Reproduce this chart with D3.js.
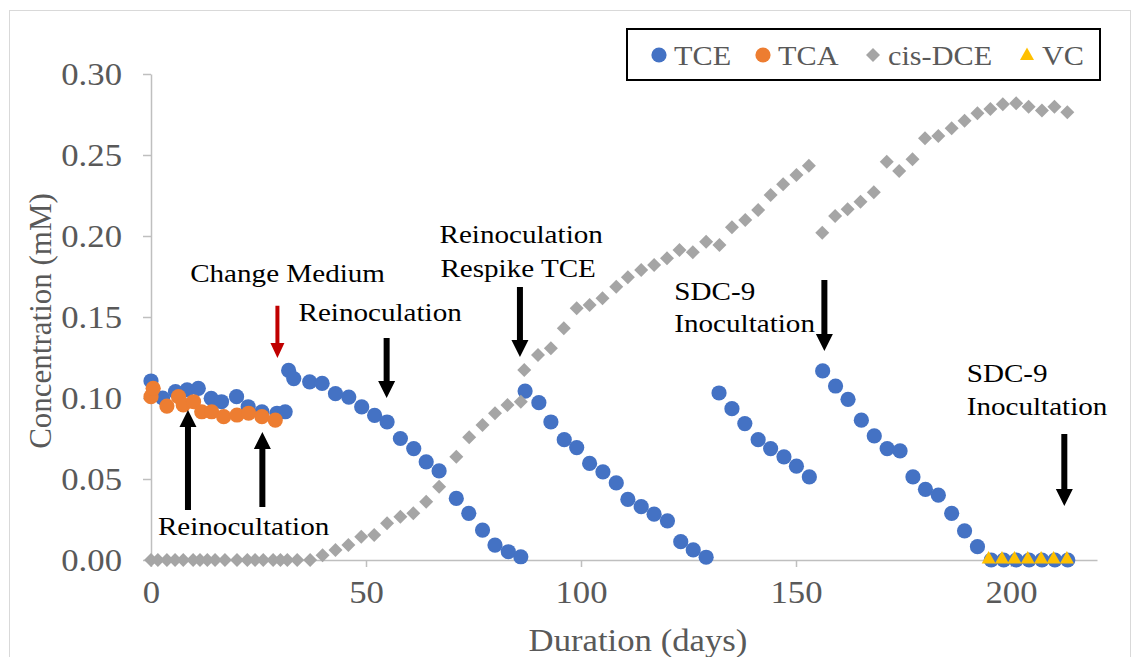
<!DOCTYPE html>
<html>
<head>
<meta charset="utf-8">
<script src="https://cdn.jsdelivr.net/npm/d3@7"></script>
<style>
  html, body { margin: 0; padding: 0; background: #fff; }
  svg { display: block; }
  svg text { font-family: "Liberation Serif", "Times New Roman", Times, serif; }
</style>
</head>
<body>
<svg id="chart" width="1138" height="657"></svg>
<script>
// ---- Measured concentrations (mM) against incubation time (days) ----
const tceDays = [0, 2.7, 5.7, 8.4, 11, 14, 16.4, 19.9, 22.6, 25.8, 29.3, 31.2,
  32, 33.2, 36.9, 39.8, 42.9, 46, 49, 52, 54.9, 58, 61.1, 64, 67, 71, 73.9, 77.1, 80, 83.1, 86,
  87, 90.2, 93, 96.1, 99, 102, 105.1, 108.2, 110.9, 114, 117, 120.1, 123.2, 126.1, 129.1,
  132.1, 135.1, 138.1, 141.2, 144.1, 147.2, 150.1, 153.1,
  156.2, 159.2, 162.1, 165.2, 168.2, 171.2, 174.2, 177.2, 180.1, 183.1, 186.2, 189.2, 192.2,
  195.4, 198.3, 201.2, 204.2, 207.2, 210.2, 213.2];
const tceConc = [0.1105, 0.100, 0.1039, 0.105, 0.106, 0.0998, 0.0977, 0.1008, 0.0946, 0.0915, 0.0906, 0.0915,
  0.117, 0.112, 0.110, 0.109, 0.1027, 0.1006, 0.0945, 0.0893, 0.0852, 0.075, 0.0688, 0.0606, 0.055, 0.038, 0.0288, 0.0185, 0.0092, 0.0051, 0.002,
  0.1043, 0.0971, 0.0852, 0.0743, 0.0694, 0.0596, 0.0544, 0.0476, 0.0374, 0.0329, 0.0283, 0.0242, 0.0113, 0.0062, 0.0017,
  0.1031, 0.0934, 0.0842, 0.0743, 0.0688, 0.0637, 0.0579, 0.0513,
  0.1167, 0.1074, 0.0992, 0.0863, 0.0766, 0.0688, 0.0673, 0.0513, 0.0436, 0.040, 0.0288, 0.018, 0.0082,
  0, 0, 0, 0, 0, 0, 0];

const tcaDays = [0, 0.5, 3.7, 6.4, 7.5, 9.9, 11.8, 14.1, 16.9, 20, 22.7, 25.8, 28.9];
const tcaConc = [0.1008, 0.106, 0.095, 0.1008, 0.0957, 0.0977, 0.0915, 0.0915, 0.0885, 0.0895, 0.0906, 0.0885, 0.0864];

const dceDays = [0, 1.6, 3.7, 5.6, 7.5, 9.8, 11.4, 13.1, 14.9, 17.2, 20, 22.4, 24.2, 26.1, 28.4, 30.1, 31.7, 34, 37,
  39.9, 42.9, 45.9, 48.9, 51.9, 54.9, 58, 61, 64, 67, 71, 74, 77.1, 80, 82.9, 86,
  86.8, 90, 93, 96, 99, 102, 105, 108.2, 110.9, 114, 117, 120, 122.9, 126, 129.1, 132.2,
  135.1, 138.2, 141.2, 144.1, 147, 150.1, 153,
  156.1, 159.1, 162, 165, 168.1, 171.1, 174, 177.1, 180, 183.1, 186.2, 189.2, 192.2, 195.2, 198.1,
  201.2, 204.1, 207.2, 210.1, 213.1];
const dceConc = [0, 0, 0, 0, 0, 0, 0, 0, 0, 0, 0, 0, 0, 0, 0, 0, 0, 0, 0,
  0.003, 0.0062, 0.0093, 0.0144, 0.0154, 0.0227, 0.0267, 0.0288, 0.036, 0.0452, 0.0638, 0.0757, 0.0833, 0.0906, 0.0957, 0.0977,
  0.1173, 0.1265, 0.1307, 0.143, 0.1554, 0.1574, 0.1615, 0.1687, 0.1745, 0.179, 0.1821, 0.1862, 0.1914, 0.190, 0.1965, 0.1945,
  0.2054, 0.2099, 0.216, 0.2253, 0.2319, 0.2377, 0.2434,
  0.202, 0.2123, 0.2165, 0.2212, 0.227, 0.2459, 0.2401, 0.2473, 0.2603, 0.2617, 0.2665, 0.2712, 0.2757, 0.2784, 0.2813,
  0.2819, 0.2798, 0.2774, 0.2798, 0.2764];

const vcDays = [194.8, 197.9, 200.8, 203.9, 207, 209.9, 213];
const vcConc = [0.001, 0.001, 0.001, 0.001, 0.001, 0.001, 0.001];

const xTicks = [0, 50, 100, 150, 200];
const yTicks = [0, 0.05, 0.10, 0.15, 0.20, 0.25, 0.30];

const seriesNames = ["TCE", "TCA", "cis-DCE", "VC"];
const seriesColors = ["#4472C4", "#ED7D31", "#A5A5A5", "#FFC000"];

// Event annotations: arrows (day, tail conc, tip conc) and label lines (day, baseline conc)
const arrowDays  = [29.4, 54.8, 85.8, 156.6, 212.4, 8.6, 25.9];
const arrowTails = [0.157, 0.137, 0.1685, 0.1728, 0.0778, 0.0309, 0.0327];
const arrowTips  = [0.1247, 0.100, 0.1253, 0.129, 0.0333, 0.0926, 0.079];
const arrowColors = ["#C00000", "#000", "#000", "#000", "#000", "#000", "#000"];

const noteText = ["Change Medium", "Reinoculation", "Reinoculation", "Respike TCE", "SDC-9", "Inocultation",
  "SDC-9", "Inocultation", "Reinocultation"];
const noteDays = [9.1, 34.3, 67.1, 67.3, 121.7, 121.7, 189.7, 189.7, 1.6];
const noteConc = [0.1716, 0.1475, 0.1957, 0.1747, 0.1605, 0.1407, 0.1099, 0.0895, 0.0154];

// ---- Layout ----
const serif = '"Liberation Serif", "Times New Roman", Times, serif';
const svg = d3.select("#chart").style("font-family", serif);
const plot = { left: 151, right: 1097, top: 74, bottom: 560 };
const stretch = 1.12;      // horizontal glyph stretch used by every label
const axisGrey = "#BFBFBF";
const labelGrey = "#595959";

const x = d3.scaleLinear().domain([0, 220]).range([plot.left, plot.right]);
const y = d3.scaleLinear().domain([0, 0.30]).range([plot.bottom, plot.top]);

// chart-area frame
svg.append("rect")
  .attr("x", 9.5).attr("y", 10.5).attr("width", 1121).attr("height", 700)
  .attr("fill", "none").attr("stroke", "#D9D9D9").attr("stroke-width", 1);

// y axis
const yAxis = svg.append("g")
  .attr("transform", `translate(${plot.left},0)`)
  .call(d3.axisLeft(y).tickValues(yTicks).tickFormat(d3.format(".2f")).tickSize(8).tickSizeOuter(0))
  .attr("font-family", null);
yAxis.select(".domain").attr("stroke", axisGrey).attr("stroke-width", 1.5);
yAxis.selectAll(".tick line").attr("stroke", axisGrey).attr("stroke-width", 1.5);
yAxis.selectAll(".tick text")
  .attr("x", -29 / stretch).attr("dy", "0.34em")
  .attr("transform", `scale(${stretch},1)`)
  .attr("fill", labelGrey).style("font-size", "31px")
  .style("font-family", serif);

// x axis
const xAxis = svg.append("g")
  .attr("transform", `translate(0,${plot.bottom})`)
  .call(d3.axisBottom(x).tickValues(xTicks).tickFormat(d3.format("d")).tickSize(7).tickSizeOuter(0))
  .attr("font-family", null);
xAxis.select(".domain").attr("stroke", axisGrey).attr("stroke-width", 1.5);
xAxis.selectAll(".tick line").attr("stroke", axisGrey).attr("stroke-width", 1.5);
xAxis.selectAll(".tick text")
  .attr("y", 43).attr("dy", 0).attr("x", 0)
  .attr("text-anchor", "middle")
  .attr("transform", `scale(${stretch},1)`)
  .attr("fill", labelGrey).style("font-size", "31px")
  .style("font-family", serif);

// axis titles
svg.append("text")
  .attr("transform", `translate(51,321) rotate(-90)`)
  .attr("text-anchor", "middle").attr("fill", labelGrey)
  .style("font-size", "31px").style("font-family", serif)
  .text("Concentration (mM)");
svg.append("text")
  .attr("transform", `translate(638,651) scale(${stretch},1)`)
  .attr("text-anchor", "middle").attr("fill", labelGrey)
  .style("font-size", "31px").style("font-family", serif)
  .text("Duration (days)");

// ---- Marker shapes ----
const diamondPath = r => `M0,${-r}L${r},0L0,${r}L${-r},0Z`;
const trianglePath = (w, h) => `M0,${-h * 0.6}L${w / 2},${h * 0.4}L${-w / 2},${h * 0.4}Z`;

function zip(days, conc) { return days.map((d, i) => ({ d, c: conc[i] })); }

const marks = svg.append("g");
// TCE
marks.append("g").selectAll("circle").data(zip(tceDays, tceConc)).join("circle")
  .attr("cx", p => x(p.d)).attr("cy", p => y(p.c)).attr("r", 7.6)
  .attr("fill", seriesColors[0]);
// TCA
marks.append("g").selectAll("circle").data(zip(tcaDays, tcaConc)).join("circle")
  .attr("cx", p => x(p.d)).attr("cy", p => y(p.c)).attr("r", 7.6)
  .attr("fill", seriesColors[1]);
// cis-DCE
marks.append("g").selectAll("path").data(zip(dceDays, dceConc)).join("path")
  .attr("transform", p => `translate(${x(p.d)},${y(p.c)})`)
  .attr("d", diamondPath(7))
  .attr("fill", seriesColors[2]);
// VC
marks.append("g").selectAll("path").data(zip(vcDays, vcConc)).join("path")
  .attr("transform", p => `translate(${x(p.d)},${y(p.c)})`)
  .attr("d", trianglePath(14, 12.5))
  .attr("fill", seriesColors[3]);

// ---- Event arrows ----
function arrowPath(x0, yTail, yTip, shaft, headW, headL) {
  const dir = yTip > yTail ? 1 : -1;
  const yBase = yTip - dir * headL;
  return `M${x0 - shaft / 2},${yTail}L${x0 + shaft / 2},${yTail}L${x0 + shaft / 2},${yBase}` +
         `L${x0 + headW / 2},${yBase}L${x0},${yTip}L${x0 - headW / 2},${yBase}L${x0 - shaft / 2},${yBase}Z`;
}
svg.append("g").selectAll("path").data(arrowDays.map((d, i) => i)).join("path")
  .attr("d", i => {
    const red = arrowColors[i] !== "#000";
    return arrowPath(x(arrowDays[i]), y(arrowTails[i]), y(arrowTips[i]),
      red ? 4 : 6, red ? 14 : 17, red ? 15 : 17);
  })
  .attr("fill", i => arrowColors[i]);

// ---- Event labels ----
svg.append("g").selectAll("text").data(noteText.map((t, i) => i)).join("text")
  .attr("transform", i => `translate(${x(noteDays[i])},${y(noteConc[i])}) scale(${stretch},1)`)
  .attr("fill", "#000").style("font-size", "26px").style("font-family", serif)
  .text(i => noteText[i]);

// ---- Legend ----
const legend = svg.append("g");
legend.append("rect")
  .attr("x", 627).attr("y", 29).attr("width", 473).attr("height", 51)
  .attr("fill", "#fff").attr("stroke", "#000").attr("stroke-width", 2);
const legendMarkX = [659, 763, 873, 1027];
const legendY = 55;
seriesNames.forEach((name, i) => {
  const mx = legendMarkX[i];
  if (i < 2) {
    legend.append("circle").attr("cx", mx).attr("cy", legendY).attr("r", 7.6).attr("fill", seriesColors[i]);
  } else if (i === 2) {
    legend.append("path").attr("transform", `translate(${mx},${legendY})`).attr("d", diamondPath(7)).attr("fill", seriesColors[i]);
  } else {
    legend.append("path").attr("transform", `translate(${mx},${legendY})`).attr("d", trianglePath(14, 12.5)).attr("fill", seriesColors[i]);
  }
  legend.append("text")
    .attr("transform", `translate(${mx + 15},${legendY + 10}) scale(${stretch},1)`)
    .attr("fill", labelGrey).style("font-size", "27px").style("font-family", serif)
    .text(name);
});
</script>
</body>
</html>
